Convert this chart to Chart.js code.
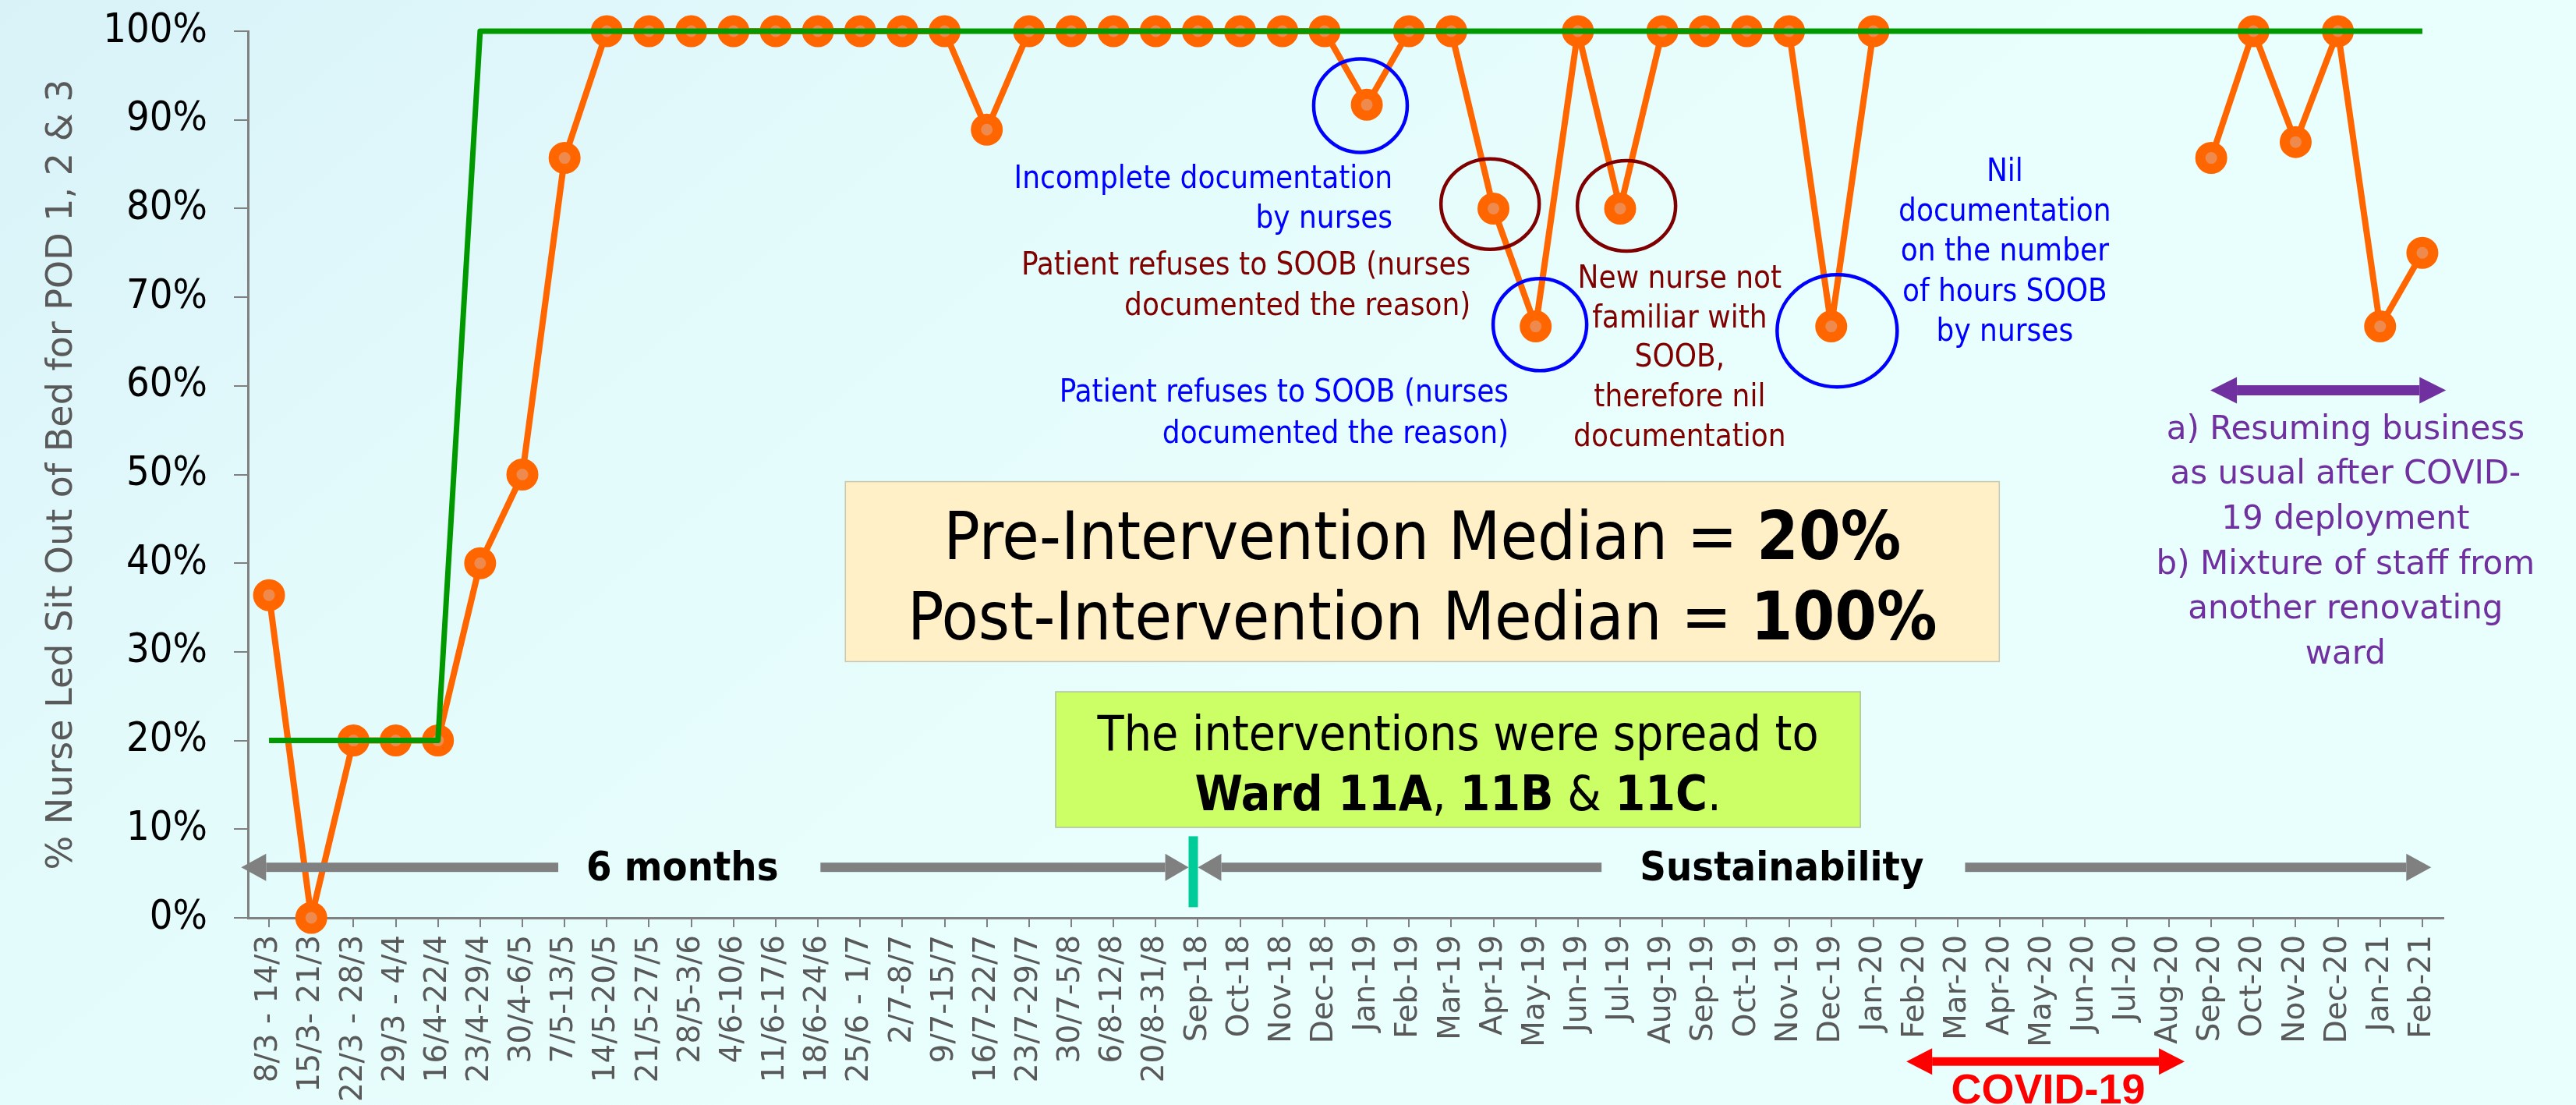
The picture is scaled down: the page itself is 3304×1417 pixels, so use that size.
<!DOCTYPE html>
<html>
<head>
<meta charset="utf-8">
<script src="https://cdn.jsdelivr.net/npm/chart.js@4.4.1/dist/chart.umd.min.js"></script>
<style>
  html, body { margin: 0; padding: 0; background: #e8fffd; }
  #wrap { width: 3304px; height: 1417px; }
</style>
</head>
<body>
<div id="wrap"><canvas id="chart" width="3304" height="1417"></canvas></div>
<script>
const periods = [
  "8/3 - 14/3", "15/3- 21/3", "22/3 - 28/3", "29/3 - 4/4", "16/4-22/4", "23/4-29/4",
  "30/4-6/5", "7/5-13/5", "14/5-20/5", "21/5-27/5", "28/5-3/6", "4/6-10/6",
  "11/6-17/6", "18/6-24/6", "25/6 - 1/7", "2/7-8/7", "9/7-15/7", "16/7-22/7",
  "23/7-29/7", "30/7-5/8", "6/8-12/8", "20/8-31/8",
  "Sep-18", "Oct-18", "Nov-18", "Dec-18",
  "Jan-19", "Feb-19", "Mar-19", "Apr-19", "May-19", "Jun-19",
  "Jul-19", "Aug-19", "Sep-19", "Oct-19", "Nov-19", "Dec-19",
  "Jan-20", "Feb-20", "Mar-20", "Apr-20", "May-20", "Jun-20",
  "Jul-20", "Aug-20", "Sep-20", "Oct-20", "Nov-20", "Dec-20",
  "Jan-21", "Feb-21"
];

// % nurse led sit out of bed (null = no data during COVID-19)
const soobRate = [
  36.4, 0, 20, 20, 20, 40,
  50, 85.7, 100, 100, 100, 100,
  100, 100, 100, 100, 100, 88.9,
  100, 100, 100, 100,
  100, 100, 100, 100,
  91.7, 100, 100, 80, 66.7, 100,
  80, 100, 100, 100, 100, 66.7,
  100, null, null, null, null, null,
  null, null, 85.7, 100, 87.5, 100,
  66.7, 75
];

const median = [
  20, 20, 20, 20, 20, 100,
  100, 100, 100, 100, 100, 100,
  100, 100, 100, 100, 100, 100,
  100, 100, 100, 100,
  100, 100, 100, 100,
  100, 100, 100, 100, 100, 100,
  100, 100, 100, 100, 100, 100,
  100, 100, 100, 100, 100, 100,
  100, 100, 100, 100, 100, 100,
  100, 100
];

const COND = "'DejaVu Sans Condensed', 'DejaVu Sans', sans-serif";
const WIDE = "'DejaVu Sans', sans-serif";

function arrow(ctx, x1, x2, y, thick, headLen, headH, color, left, right) {
  ctx.fillStyle = color;
  const s = left ? x1 + headLen : x1;
  const e = right ? x2 - headLen : x2;
  ctx.fillRect(s, y - thick / 2, e - s, thick);
  if (left) {
    ctx.beginPath();
    ctx.moveTo(x1, y); ctx.lineTo(x1 + headLen, y - headH / 2); ctx.lineTo(x1 + headLen, y + headH / 2);
    ctx.closePath(); ctx.fill();
  }
  if (right) {
    ctx.beginPath();
    ctx.moveTo(x2, y); ctx.lineTo(x2 - headLen, y - headH / 2); ctx.lineTo(x2 - headLen, y + headH / 2);
    ctx.closePath(); ctx.fill();
  }
}

function lines(ctx, texts, x, ys, align, font, color) {
  ctx.font = font; ctx.fillStyle = color; ctx.textAlign = align; ctx.textBaseline = 'alphabetic';
  texts.forEach((t, k) => ctx.fillText(t, x, ys[k]));
}

// a line made of [text, bold] parts, centred on cx
function mixed(ctx, parts, cx, y, size, color) {
  ctx.textAlign = 'left'; ctx.textBaseline = 'alphabetic'; ctx.fillStyle = color;
  let total = 0;
  const w = parts.map(([t, b]) => {
    ctx.font = (b ? 'bold ' : '') + size + 'px ' + COND;
    const m = ctx.measureText(t).width; total += m; return m;
  });
  let x = cx - total / 2;
  parts.forEach(([t, b], k) => {
    ctx.font = (b ? 'bold ' : '') + size + 'px ' + COND;
    ctx.fillText(t, x, y); x += w[k];
  });
}

const notes = {
  id: 'notes',
  beforeDraw(chart) {
    const { ctx, width, height } = chart;
    const g = ctx.createLinearGradient(0, 0, width * 0.35, height);
    g.addColorStop(0, '#d8f2f8');
    g.addColorStop(0.45, '#e3fafb');
    g.addColorStop(1, '#e8fffd');
    ctx.save(); ctx.fillStyle = g; ctx.fillRect(0, 0, width, height); ctx.restore();
  },
  afterDraw(chart) {
    const { ctx } = chart;
    const X = i => chart.scales.x.getPixelForValue(i);
    const Y = v => chart.scales.y.getPixelForValue(v);
    ctx.save();

    // circles around the dips
    const rings = [
      [25.85, 91.6, 60, 60, '#0000ff'],
      [28.92, 80.5, 63, 58, '#7f0000'],
      [30.1, 66.9, 60, 59, '#0000ff'],
      [32.15, 80.3, 63, 58, '#7f0000'],
      [37.14, 66.2, 77, 72, '#0000ff']
    ];
    ctx.lineWidth = 4.5;
    rings.forEach(([i, v, rx, ry, c]) => {
      ctx.strokeStyle = c; ctx.beginPath();
      ctx.ellipse(X(i), Y(v), rx, ry, 0, 0, Math.PI * 2); ctx.stroke();
    });

    const f40 = '40px ' + COND;
    lines(ctx, ['Incomplete documentation', 'by nurses'], X(26.61), [Y(82.3), Y(77.8)], 'right', f40, '#0000ff');
    lines(ctx, ['Patient refuses to SOOB (nurses', 'documented the reason)'], X(28.46), [Y(72.6), Y(68.0)], 'right', f40, '#800000');
    lines(ctx, ['Patient refuses to SOOB (nurses', 'documented the reason)'], X(29.36), [Y(58.2), Y(53.6)], 'right', f40, '#0000ff');
    lines(ctx, ['New nurse not', 'familiar with', 'SOOB,', 'therefore nil', 'documentation'], X(33.41),
      [Y(71.1), Y(66.6), Y(62.2), Y(57.7), Y(53.2)], 'center', f40, '#800000');
    lines(ctx, ['Nil', 'documentation', 'on the number', 'of hours SOOB', 'by nurses'], X(41.11),
      [Y(83.1), Y(78.6), Y(74.1), Y(69.6), Y(65.1)], 'center', f40, '#0000ff');

    // purple period after COVID-19
    arrow(ctx, X(45.98), X(51.56), Y(59.5), 13, 34, 34, '#7030a0', true, true);
    lines(ctx, ['a) Resuming business', 'as usual after COVID-', '19 deployment', 'b) Mixture of staff from',
      'another renovating', 'ward'], X(49.18),
      [Y(54.0), Y(48.95), Y(43.9), Y(38.8), Y(33.8), Y(28.7)], 'center', '42px ' + WIDE, '#7030a0');

    // median box
    let x1 = X(13.65), x2 = X(40.98), y1 = Y(49.2), y2 = Y(28.9);
    ctx.fillStyle = '#fff0c8'; ctx.fillRect(x1, y1, x2 - x1, y2 - y1);
    ctx.strokeStyle = '#c8c8b0'; ctx.lineWidth = 1.5; ctx.strokeRect(x1, y1, x2 - x1, y2 - y1);
    const cx = (x1 + x2) / 2;
    mixed(ctx, [['Pre-Intervention Median = ', false], ['20%', true]], cx, Y(40.5), 86, '#000');
    mixed(ctx, [['Post-Intervention Median = ', false], ['100%', true]], cx, Y(31.4), 86, '#000');

    // spread box
    x1 = X(18.63); x2 = X(37.69); y1 = Y(25.5); y2 = Y(10.2);
    ctx.fillStyle = '#ccff66'; ctx.fillRect(x1, y1, x2 - x1, y2 - y1);
    ctx.strokeStyle = '#b0c0a0'; ctx.lineWidth = 1.5; ctx.strokeRect(x1, y1, x2 - x1, y2 - y1);
    const gx = (x1 + x2) / 2;
    mixed(ctx, [['The interventions were spread to', false]], gx, Y(18.9), 62, '#000');
    mixed(ctx, [['Ward 11A', true], [', ', false], ['11B', true], [' & ', false], ['11C', true], ['.', false]], gx, Y(12.1), 62, '#000');

    // 6 months / sustainability timeline
    const ay = Y(5.7);
    arrow(ctx, X(-0.66), X(6.85), ay, 12, 32, 35, '#808080', true, false);
    arrow(ctx, X(13.06), X(21.78), ay, 12, 30, 35, '#808080', false, true);
    arrow(ctx, X(22.0), X(31.56), ay, 12, 30, 35, '#808080', true, false);
    arrow(ctx, X(40.17), X(51.21), ay, 12, 32, 35, '#808080', false, true);
    ctx.fillStyle = '#00cc99';
    ctx.fillRect(X(21.89) - 6, Y(9.2), 12, Y(1.2) - Y(9.2));
    lines(ctx, ['6 months'], X(9.79), [Y(4.2)], 'center', 'bold 52px ' + COND, '#000');
    lines(ctx, ['Sustainability'], X(35.83), [Y(4.2)], 'center', 'bold 52px ' + COND, '#000');

    // COVID-19 period under the axis
    arrow(ctx, X(38.78), X(45.37), Y(-16.2), 11, 33, 34, '#ff0000', true, true);
    lines(ctx, ['COVID-19'], X(42.14), [Y(-20.9)], 'center', 'bold 54px "Liberation Sans Narrow", "Liberation Sans", sans-serif', '#ff0000');

    ctx.restore();
  }
};

new Chart(document.getElementById('chart'), {
  type: 'line',
  plugins: [notes],
  data: {
    labels: periods,
    datasets: [
      {
        label: 'Median',
        data: median,
        borderColor: '#009900',
        borderWidth: 7,
        borderJoinStyle: 'round',
        pointRadius: 0,
        tension: 0,
        clip: false
      },
      {
        label: '% Nurse Led SOOB',
        data: soobRate,
        borderColor: '#ff6600',
        borderWidth: 8,
        borderJoinStyle: 'round',
        pointRadius: 14,
        pointBorderWidth: 13,
        pointBackgroundColor: '#ef8a4e',
        pointBorderColor: '#ff6600',
        spanGaps: false,
        tension: 0,
        clip: false
      }
    ]
  },
  options: {
    responsive: false,
    animation: false,
    layout: { padding: { left: 0, top: 40, right: 170, bottom: 0 } },
    plugins: {
      legend: { display: false },
      tooltip: { enabled: false }
    },
    scales: {
      x: {
        offset: true,
        grid: { offset: false, drawOnChartArea: false, drawTicks: true, tickLength: 12, color: '#808080', lineWidth: 2 },
        border: { display: true, color: '#808080', width: 3 },
        ticks: {
          autoSkip: false, minRotation: 90, maxRotation: 90, padding: 10,
          color: '#595959', font: { family: WIDE, size: 39 }
        },
        afterFit: s => { s.height = 1417 - 1177; s.paddingLeft = 0; s.paddingRight = 0; }
      },
      y: {
        min: 0, max: 100,
        grid: { drawOnChartArea: false, drawTicks: true, tickLength: 18, color: '#808080', lineWidth: 2 },
        border: { display: true, color: '#808080', width: 3 },
        ticks: {
          stepSize: 10, padding: 34, color: '#000',
          font: { family: COND, size: 52 },
          callback: v => v + '%'
        },
        title: {
          display: true,
          text: '% Nurse Led Sit Out of Bed for POD 1, 2 & 3',
          color: '#595959',
          font: { family: WIDE, size: 46 },
          padding: { top: 52, bottom: 0 }
        },
        afterFit: s => { s.width = 318; s.paddingTop = 0; s.paddingBottom = 0; }
      }
    }
  }
});
</script>
</body>
</html>
